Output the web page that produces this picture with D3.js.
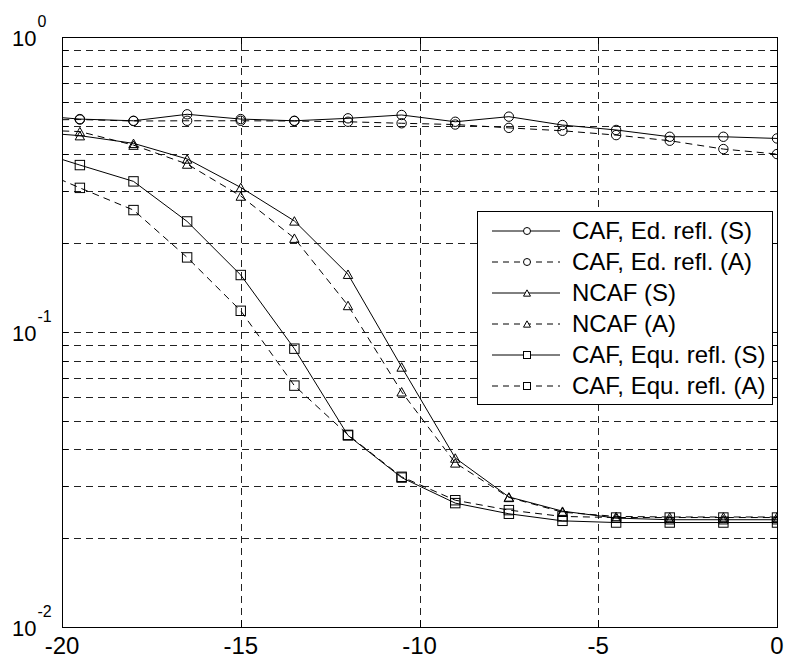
<!DOCTYPE html>
<html>
<head>
<meta charset="utf-8">
<script src="https://cdn.jsdelivr.net/npm/d3@7"></script>
<style>
  body { margin: 0; background: #fff; }
  svg { font-family: "Liberation Sans", Arial, sans-serif; }
</style>
</head>
<body>
<div id="chart"></div>
<script>
const MARGINS = { left: 62, right: 12, top: 37, bottom: 33 };
const FRAME_WIDTH = 789;
const FRAME_HEIGHT = 660;
const VIS_WIDTH = FRAME_WIDTH - MARGINS.left - MARGINS.right;
const VIS_HEIGHT = FRAME_HEIGHT - MARGINS.top - MARGINS.bottom;

// x values (the first one sits just outside the axis and is clipped)
const xs = [-21, -19.5, -18, -16.5, -15, -13.5, -12, -10.5, -9, -7.5, -6, -4.5, -3, -1.5, 0];

const cafEdS  = [0.544, 0.527, 0.520, 0.547, 0.527, 0.520, 0.530, 0.544, 0.516, 0.537, 0.503, 0.484, 0.459, 0.459, 0.453];
const cafEdA  = [0.523, 0.525, 0.519, 0.520, 0.520, 0.519, 0.516, 0.510, 0.505, 0.492, 0.481, 0.465, 0.445, 0.417, 0.401];
const ncafS   = [0.478, 0.463, 0.436, 0.386, 0.309, 0.238, 0.157, 0.0761, 0.0374, 0.0276, 0.0247, 0.0234, 0.0231, 0.0231, 0.0231];
const ncafA   = [0.485, 0.478, 0.430, 0.371, 0.289, 0.208, 0.123, 0.0627, 0.0360, 0.0275, 0.0245, 0.0237, 0.0236, 0.0236, 0.0236];
const cafEquS = [0.420, 0.368, 0.324, 0.237, 0.156, 0.0878, 0.0446, 0.0321, 0.0263, 0.0242, 0.0229, 0.0226, 0.0226, 0.0226, 0.0226];
const cafEquA = [0.369, 0.308, 0.259, 0.179, 0.118, 0.0658, 0.0448, 0.0323, 0.0269, 0.0249, 0.0237, 0.0235, 0.0235, 0.0235, 0.0235];

const seriesNames = ["CAF, Ed. refl. (S)", "CAF, Ed. refl. (A)", "NCAF (S)", "NCAF (A)", "CAF, Equ. refl. (S)", "CAF, Equ. refl. (A)"];
const seriesValues = [cafEdS, cafEdA, ncafS, ncafA, cafEquS, cafEquA];
const seriesMarkers = ["circle", "circle", "triangle", "triangle", "square", "square"];
const seriesDashed = [false, true, false, true, false, true];

const xTicks = [-20, -15, -10, -5, 0];
const yMajor = [0.01, 0.1, 1];
const yExponents = ["-2", "-1", "0"];

const X_SCALE = d3.scaleLinear().domain([-20, 0]).range([0, VIS_WIDTH]);
const Y_SCALE = d3.scaleLog().domain([0.01, 1]).range([VIS_HEIGHT, 0]);

// every decade tick: 0.01, 0.02 ... 0.9, 1
const yAll = [];
[0.01, 0.1].forEach((base) => {
  for (let k = 1; k < 10; k++) yAll.push(+(base * k).toPrecision(3));
});
yAll.push(1);

const FRAME = d3.select("#chart")
  .append("svg")
  .attr("width", FRAME_WIDTH)
  .attr("height", FRAME_HEIGHT);

const plot = FRAME.append("g")
  .attr("transform", "translate(" + MARGINS.left + "," + MARGINS.top + ")");

plot.append("clipPath").attr("id", "clip")
  .append("rect").attr("width", VIS_WIDTH).attr("height", VIS_HEIGHT);

// grid
const gridY = plot.append("g")
  .call(d3.axisLeft(Y_SCALE).tickValues(yAll).tickSize(-VIS_WIDTH).tickFormat(""));
const gridX = plot.append("g")
  .attr("transform", "translate(0," + VIS_HEIGHT + ")")
  .call(d3.axisBottom(X_SCALE).tickValues(xTicks).tickSize(-VIS_HEIGHT).tickFormat(""));
[gridY, gridX].forEach((g) => {
  g.select(".domain").remove();
  g.selectAll("line")
    .attr("stroke", "#222")
    .attr("stroke-dasharray", "7,5")
    .attr("shape-rendering", "crispEdges");
});

// ticks inside on all four sides
function tickStyle(g) {
  g.select(".domain").remove();
  g.selectAll("line").attr("stroke", "#000").attr("shape-rendering", "crispEdges");
}
plot.append("g").call(d3.axisLeft(Y_SCALE).tickValues(yAll).tickSize(-6).tickFormat("")).call(tickStyle);
plot.append("g").attr("transform", "translate(" + VIS_WIDTH + ",0)")
  .call(d3.axisRight(Y_SCALE).tickValues(yAll).tickSize(-6).tickFormat("")).call(tickStyle);
plot.append("g").attr("transform", "translate(0," + VIS_HEIGHT + ")")
  .call(d3.axisBottom(X_SCALE).tickValues(xTicks).tickSize(-7).tickFormat("")).call(tickStyle);
plot.append("g")
  .call(d3.axisTop(X_SCALE).tickValues(xTicks).tickSize(-7).tickFormat("")).call(tickStyle);

// tick labels
plot.selectAll(".xlab")
  .data(xTicks)
  .enter()
  .append("text")
  .attr("x", (d) => X_SCALE(d))
  .attr("y", VIS_HEIGHT + 27)
  .attr("text-anchor", "middle")
  .attr("font-size", "24px")
  .text((d) => d);

const ylab = plot.selectAll(".ylab")
  .data(yMajor)
  .enter()
  .append("text")
  .attr("x", -50)
  .attr("y", (d) => Y_SCALE(d) + 9)
  .attr("font-size", "22px");
ylab.append("tspan").text("10");
ylab.append("tspan")
  .attr("dy", -19.5)
  .attr("dx", 1)
  .attr("font-size", "16px")
  .text((d, i) => yExponents[i]);

// series
const line = d3.line()
  .x((d) => X_SCALE(d[0]))
  .y((d) => Y_SCALE(d[1]));

function drawMarker(g, type, cx, cy, size) {
  if (type === "circle") {
    g.append("circle").attr("cx", cx).attr("cy", cy).attr("r", size / 2);
  } else if (type === "square") {
    g.append("rect").attr("x", cx - size / 2).attr("y", cy - size / 2)
      .attr("width", size).attr("height", size);
  } else {
    const h = size * 0.9;
    g.append("path").attr("d",
      "M" + cx + "," + (cy - h / 2) +
      "L" + (cx + size / 2) + "," + (cy + h / 2) +
      "L" + (cx - size / 2) + "," + (cy + h / 2) + "Z");
  }
}

const series = plot.append("g").attr("clip-path", "url(#clip)");
seriesValues.forEach((vals, i) => {
  const pts = xs.map((x, j) => [x, vals[j]]);
  series.append("path")
    .datum(pts)
    .attr("d", line)
    .attr("fill", "none")
    .attr("stroke", "#000")
    .attr("stroke-width", 1)
    .attr("stroke-dasharray", seriesDashed[i] ? "7,5" : null);
  const mg = series.append("g").attr("fill", "none").attr("stroke", "#000").attr("stroke-width", 1);
  pts.forEach((p) => drawMarker(mg, seriesMarkers[i], X_SCALE(p[0]), Y_SCALE(p[1]), 9.4));
});

// frame
plot.append("rect")
  .attr("width", VIS_WIDTH)
  .attr("height", VIS_HEIGHT)
  .attr("fill", "none")
  .attr("stroke", "#000")
  .attr("shape-rendering", "crispEdges");

// legend
const LEG = { x: 477, y: 211, w: 295, h: 193, row: 31, first: 20 };
const legend = FRAME.append("g").attr("transform", "translate(" + LEG.x + "," + LEG.y + ")");
legend.append("rect")
  .attr("width", LEG.w)
  .attr("height", LEG.h)
  .attr("fill", "#fff")
  .attr("stroke", "#000")
  .attr("shape-rendering", "crispEdges");
seriesNames.forEach((name, i) => {
  const cy = LEG.first + i * LEG.row;
  const row = legend.append("g");
  row.append("line")
    .attr("x1", 15).attr("x2", 83)
    .attr("y1", cy).attr("y2", cy)
    .attr("stroke", "#000")
    .attr("stroke-dasharray", seriesDashed[i] ? "6,5" : null);
  const mg = row.append("g").attr("fill", "#fff").attr("stroke", "#000");
  drawMarker(mg, seriesMarkers[i], 50, cy, 7);
  row.append("text")
    .attr("x", 95)
    .attr("y", cy + 8)
    .attr("font-size", "24px")
    .text(name);
});
</script>
</body>
</html>
